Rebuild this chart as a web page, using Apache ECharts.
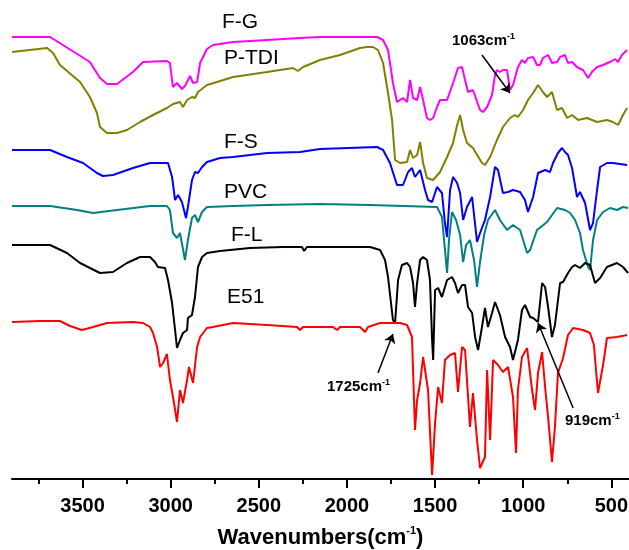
<!DOCTYPE html>
<html><head><meta charset="utf-8">
<script src="https://cdn.jsdelivr.net/npm/echarts@6/dist/echarts.min.js"></script>
<style>html,body{margin:0;padding:0;background:#fff}#c{width:629px;height:550px}</style>
</head><body><div id="c"></div>
<script>
// Wavenumber (cm-1), offset transmittance (arbitrary units)
const seriesNames = ['F-G', 'P-TDI', 'F-S', 'PVC', 'F-L', 'E51'];
const majorTicks = [500, 1000, 1500, 2000, 2500, 3000, 3500];
const minorTicks = [750, 1250, 1750, 2250, 2750, 3250, 3750];

const fgData = [[3900,442],[3684,442],[3458,417],[3401,401],[3361,395],[3304,395],[3214,407],[3157,417],[3021,418],[3004,416],[2987,392],[2964,396],[2936,390],[2919,393],[2890,403],[2873,396],[2850,397],[2833,416],[2794,430],[2760,434],[2646,437],[2453,439],[2266,441],[2153,442],[1829,442],[1795,439],[1767,429],[1739,396],[1716,377],[1699,379],[1682,381],[1659,377],[1642,399],[1625,381],[1602,379],[1585,392],[1568,379],[1546,361],[1529,359],[1511,361],[1489,372],[1472,379],[1432,379],[1398,396],[1370,411],[1347,412],[1330,399],[1313,387],[1285,389],[1245,369],[1228,367],[1205,372],[1177,384],[1160,404],[1149,409],[1132,407],[1115,409],[1092,409],[1075,389],[1058,394],[1030,412],[1007,419],[990,416],[973,421],[944,422],[922,414],[905,414],[888,421],[859,424],[837,416],[808,417],[791,422],[763,424],[746,416],[723,417],[695,412],[661,409],[632,401],[610,407],[581,412],[547,414],[508,417],[479,420],[462,417],[440,424],[411,429]];

const ptdiData = [[3900,427],[3701,431],[3667,426],[3628,414],[3514,397],[3458,382],[3418,366],[3401,352],[3361,346],[3304,346],[3248,349],[3174,357],[3100,364],[3021,371],[2987,375],[2947,377],[2930,372],[2907,379],[2879,382],[2862,381],[2845,387],[2794,394],[2737,397],[2646,402],[2453,407],[2306,411],[2278,408],[2249,412],[2153,419],[2039,424],[1926,431],[1886,432],[1852,432],[1824,429],[1795,416],[1767,386],[1744,359],[1727,319],[1699,316],[1659,317],[1642,329],[1625,321],[1602,324],[1585,337],[1568,316],[1546,301],[1511,299],[1472,307],[1432,322],[1398,336],[1375,354],[1358,364],[1341,349],[1319,336],[1285,331],[1234,316],[1217,314],[1188,322],[1149,339],[1115,352],[1075,361],[1047,364],[1030,362],[1001,369],[973,379],[944,386],[916,394],[888,387],[865,382],[837,387],[808,369],[780,371],[751,361],[723,364],[689,359],[638,361],[581,357],[525,359],[491,357],[462,354],[434,364],[411,371]];

const fsData = [[3900,329],[3684,329],[3588,322],[3497,316],[3418,306],[3384,303],[3327,304],[3214,311],[3117,316],[3043,316],[3015,316],[2992,302],[2975,279],[2958,284],[2936,277],[2913,261],[2902,272],[2879,299],[2862,307],[2845,306],[2822,312],[2794,317],[2720,321],[2646,322],[2453,326],[2266,327],[2153,330],[1829,332],[1795,329],[1756,316],[1716,294],[1682,294],[1653,307],[1631,311],[1614,302],[1585,309],[1557,289],[1540,279],[1517,277],[1489,292],[1461,286],[1444,256],[1432,242],[1415,289],[1398,302],[1375,296],[1358,286],[1341,259],[1319,272],[1290,282],[1262,237],[1245,246],[1217,259],[1188,282],[1160,312],[1143,309],[1115,286],[1086,287],[1058,289],[1018,287],[990,279],[973,267],[944,282],[916,306],[876,309],[848,307],[831,316],[803,326],[780,331],[763,327],[746,324],[723,311],[695,282],[678,287],[649,276],[621,249],[604,256],[581,289],[564,312],[525,316],[491,316],[451,315],[411,314]];

const pvcData = [[3900,273],[3684,273],[3531,269],[3440,266],[3304,269],[3117,273],[3021,273],[3004,269],[2987,246],[2964,241],[2947,246],[2919,219],[2902,239],[2879,261],[2862,264],[2845,257],[2822,267],[2794,272],[2646,273],[2453,274],[2153,275],[1869,274],[1489,272],[1461,262],[1444,229],[1432,206],[1421,239],[1404,267],[1381,259],[1358,244],[1341,217],[1324,234],[1302,239],[1279,219],[1262,192],[1245,217],[1222,244],[1200,259],[1160,269],[1132,259],[1092,249],[1058,254],[1018,249],[978,226],[961,229],[922,249],[865,257],[808,271],[763,269],[734,266],[706,259],[678,246],[661,229],[632,212],[621,209],[604,239],[581,259],[547,267],[508,271],[468,269],[434,272],[405,271]];

const flData = [[3900,234],[3684,234],[3588,226],[3514,216],[3401,206],[3327,207],[3248,216],[3174,222],[3117,222],[3089,217],[3072,212],[3032,211],[3015,199],[2992,176],[2975,149],[2964,131],[2947,139],[2930,146],[2907,149],[2902,161],[2879,164],[2862,182],[2845,212],[2822,222],[2794,226],[2720,228],[2550,231],[2363,232],[2255,232],[2243,228],[2227,232],[2079,232],[1869,232],[1812,229],[1784,219],[1767,202],[1739,159],[1727,156],[1710,199],[1688,214],[1659,216],[1642,212],[1625,196],[1614,172],[1602,196],[1585,219],[1568,222],[1546,219],[1529,199],[1517,139],[1511,119],[1500,189],[1483,191],[1461,182],[1432,199],[1404,202],[1387,196],[1370,186],[1347,194],[1330,194],[1313,172],[1290,166],[1273,142],[1256,129],[1234,152],[1217,171],[1200,152],[1177,166],[1160,177],[1132,164],[1103,142],[1075,132],[1058,119],[1030,139],[1007,169],[990,174],[961,162],[944,161],[916,157],[893,196],[876,192],[859,172],[837,142],[820,154],[791,196],[774,197],[746,206],[723,212],[706,214],[678,211],[649,216],[621,214],[593,196],[564,201],[525,212],[468,216],[434,212],[405,206]];

const e51Data = [[3900,157],[3741,158],[3628,158],[3571,153],[3503,149],[3440,152],[3361,156],[3214,157],[3157,156],[3117,152],[3100,146],[3077,132],[3060,112],[3043,116],[3021,125],[3004,99],[2981,76],[2964,57],[2947,89],[2930,76],[2907,99],[2896,112],[2873,96],[2850,132],[2833,142],[2794,151],[2760,152],[2646,156],[2453,154],[2283,152],[2266,149],[2249,152],[2079,152],[2056,149],[2039,152],[1926,152],[1897,147],[1880,152],[1812,156],[1756,156],[1699,156],[1659,154],[1631,142],[1614,49],[1602,79],[1585,96],[1568,122],[1540,89],[1517,4],[1500,56],[1483,92],[1461,76],[1444,119],[1415,124],[1387,126],[1370,87],[1347,132],[1330,129],[1302,52],[1285,86],[1262,39],[1245,11],[1217,22],[1205,109],[1188,39],[1171,119],[1143,114],[1115,107],[1086,112],[1058,82],[1041,26],[1030,89],[1007,122],[978,131],[950,89],[933,69],[916,106],[893,127],[876,92],[859,62],[837,17],[820,52],[803,106],[774,121],[746,144],[717,151],[661,149],[621,146],[599,134],[576,86],[547,114],[525,141],[468,142],[411,144]];

// Annotation arrows: [start, end] in (wavenumber, value)
const arrow1063 = [[1234, 424], [1075, 386]];
const arrow1725 = [[1824, 106], [1739, 145]];
const arrow919 = [[717, 71], [916, 156]];

const colors = ['#ff00ff', '#808000', '#0000ff', '#008080', '#000000', '#ff0000'];
const allData = [fgData, ptdiData, fsData, pvcData, flData, e51Data];
const FONT = '"Liberation Sans", Arial, sans-serif';

function arrowLine(a) {
  return {
    silent: true, symbol: ['none', 'arrow'], symbolSize: 9,
    lineStyle: {color: '#000', width: 1.5, type: 'solid'},
    label: {show: false}, emphasis: {disabled: true},
    data: a.map(p => [{coord: p[0]}, {coord: p[1]}])
  };
}

const series = seriesNames.map((n, i) => {
  const s = {
    type: 'line', name: n, data: allData[i], symbol: 'none', showSymbol: false,
    lineStyle: {color: colors[i], width: 2}, itemStyle: {color: colors[i]},
    animation: false, silent: true
  };
  if (n === 'F-G') s.markLine = arrowLine([arrow1063]);
  if (n === 'F-L') s.markLine = arrowLine([arrow1725, arrow919]);
  return s;
});

function label(text, left, cy) {
  return {type: 'text', left: left, top: cy - 11, style: {text: text, font: '21px ' + FONT, fill: '#000'}};
}
function ann(text, left, cy) {
  return {type: 'text', left: left, top: cy - 10, style: {
    text: '{b|' + text + '}{s|-1}', fill: '#000',
    rich: {b: {fontSize: 15, fontWeight: 'bold', fontFamily: FONT, lineHeight: 18},
           s: {fontSize: 9, fontWeight: 'bold', fontFamily: FONT, lineHeight: 10, verticalAlign: 'top'}}
  }};
}

const chart = echarts.init(document.getElementById('c'), null, {renderer: 'canvas'});
chart.setOption({
  backgroundColor: '#fff',
  animation: false,
  grid: {left: 12, right: 0, top: 0, bottom: 71, containLabel: false, outerBoundsMode: 'none'},
  xAxis: [{
    type: 'value', min: 400, max: 3900, inverse: true, position: 'bottom',
    axisLine: {show: true, lineStyle: {color: '#000', width: 2}},
    axisTick: {show: true, customValues: majorTicks, length: 9, inside: false, lineStyle: {color: '#000', width: 2}},
    axisLabel: {show: true, customValues: majorTicks, margin: 17, color: '#000', fontSize: 20, fontWeight: 'bold', fontFamily: FONT,
                formatter: v => String(v), hideOverlap: false},
    splitLine: {show: false},
    name: '{a|Wavenumbers(cm}{s|-1}{a|)}', nameLocation: 'middle', nameGap: 46,
    nameTextStyle: {rich: {
      a: {fontSize: 22, fontWeight: 'bold', fontFamily: FONT, color: '#000', lineHeight: 25},
      s: {fontSize: 11, fontWeight: 'bold', fontFamily: FONT, color: '#000', lineHeight: 12, verticalAlign: 'top'}
    }}
  }, {
    type: 'value', min: 400, max: 3900, inverse: true, position: 'bottom', offset: 0,
    axisLine: {show: false},
    axisTick: {show: true, customValues: minorTicks, length: 5, lineStyle: {color: '#000', width: 2}},
    axisLabel: {show: false}, splitLine: {show: false}
  }],
  yAxis: {type: 'value', min: 0, max: 479, show: false},
  series: series,
  graphic: [
    label('F-G', 222, 23), label('P-TDI', 224, 59), label('F-S', 224, 143),
    label('PVC', 224, 193), label('F-L', 231, 236), label('E51', 227, 298),
    ann('1063cm', 452, 42), ann('1725cm', 327, 388), ann('919cm', 565, 422)
  ]
});
</script></body></html>
